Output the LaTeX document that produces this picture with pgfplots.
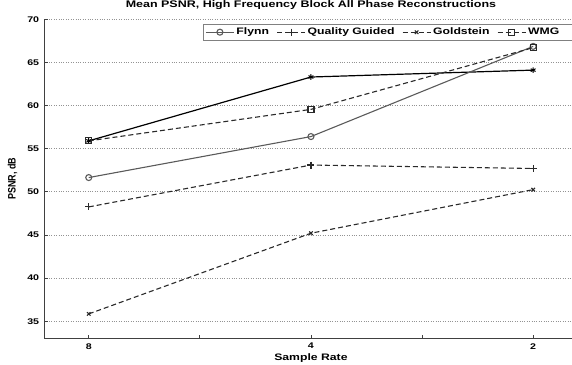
\documentclass[border=0pt]{standalone}
\usepackage{fontspec}
\setmainfont{Liberation Sans}[FakeStretch=1.3]
\newfontfamily\plainsans{Liberation Sans}
\usepackage{pgfplots}
\pgfplotsset{compat=1.18}
\definecolor{lgray}{HTML}{5A5A5A}
\definecolor{dgray}{HTML}{2A2A2A}
\definecolor{agray}{HTML}{404040}
\begin{document}
\begin{tikzpicture}
\useasboundingbox (-44.3pt,-25.5pt) rectangle (527.7pt,338.5pt);
\clip (-44.3pt,-25.5pt) rectangle (527.7pt,338.5pt);
\begin{axis}[
  at={(0pt,0pt)}, anchor=south west,
  scale only axis, width=533.3pt, height=319.3pt,
  xmin=0.6, xmax=5.4, ymin=33, ymax=70,
  axis x line*=bottom, axis y line*=left,
  x axis line style={-}, y axis line style={-},
  axis line style={agray, line width=1.1pt},
  xtick pos=both, ytick pos=left,
  tick align=inside, major tick length=4pt,
  tick style={agray, line width=0.7pt},
  xtick={1,2,3,4,5}, xticklabels={8,,4,,2},
  ytick={35,40,...,70},
  ymajorgrids,
  major grid style={gray!85, dotted, line width=0.7pt},
  /pgf/number format/assume math mode=true,
  tick label style={font=\bfseries\fontsize{8.2}{9}\selectfont},
  xticklabel style={yshift=-1.3pt},
  yticklabel style={xshift=-1.6pt},
  title={Mean PSNR, High Frequency Block All Phase Reconstructions},
  title style={at={(0.5,1)}, anchor=base, yshift=6pt, font=\bfseries\fontsize{9.6}{11}\selectfont},
  xlabel={Sample Rate},
  xlabel style={at={(axis description cs:0.5,0)}, anchor=base, yshift=-21.5pt, font=\bfseries\fontsize{9.4}{11}\selectfont},
  ylabel={\scalebox{1}[1.2]{\plainsans\bfseries\fontsize{9}{10}\selectfont PSNR, dB}},
  ylabel style={at={(axis description cs:-0.0596,0.5)}, anchor=center},
  legend columns=4,
  legend image code/.code={\draw[mark repeat=2,mark phase=2] plot coordinates {(0pt,0pt) (14pt,0pt) (28pt,0pt)};},
  legend style={at={(0.2976,0.986)}, anchor=north west, draw=gray, line width=0.7pt,
    font=\bfseries\fontsize{9.4}{10}\selectfont, inner xsep=2pt, inner ysep=2pt,
    /tikz/every even column/.append style={column sep=5.5pt}},
  legend cell align=left,
]
\addplot[black, line width=1.2pt, mark=asterisk, mark size=2.8pt, mark options={solid, line width=1pt}, forget plot]
  coordinates {(1,55.9) (3,63.3) (5,64.1)};
\addplot[lgray, line width=1.1pt, mark=o, mark size=3pt, mark options={solid}]
  coordinates {(1,51.65) (3,56.4) (5,66.85)};
\addlegendentry{Flynn}
\addplot[dgray, line width=1.1pt, dash pattern=on 5pt off 3pt, mark=+, mark size=3.5pt, mark options={solid}]
  coordinates {(1,48.25) (3,53.1) (5,52.7)};
\addlegendentry{Quality Guided}
\addplot[dgray, line width=1.1pt, dash pattern=on 5pt off 3pt, mark=x, mark size=2.5pt, mark options={solid}]
  coordinates {(1,35.85) (3,45.2) (5,50.25)};
\addlegendentry{Goldstein}
\addplot[dgray, line width=1.1pt, dash pattern=on 5pt off 3pt, mark=square, mark size=3pt, mark options={solid}]
  coordinates {(1,55.9) (3,59.55) (5,66.7)};
\addlegendentry{WMG\hspace*{30pt}}
\end{axis}
\end{tikzpicture}
\end{document}
